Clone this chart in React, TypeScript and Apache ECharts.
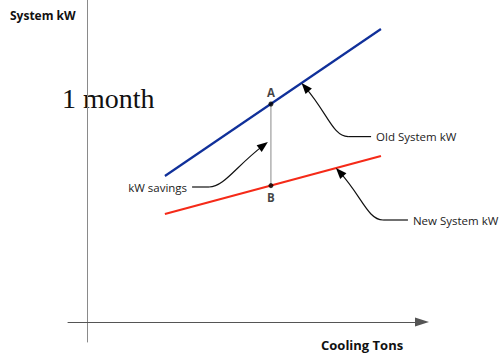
import { useEffect, useRef } from "react";
import * as echarts from "echarts";

// Cooling tons (x) at the two ends of each performance line
const tons = [4.1, 15.47];
// System kW (y) of the old and the new system at those tons
const oldSystemKw = [7.3, 14.65];
const newSystemKw = [5.4, 8.3];
// Measurement point
const measureTons = 9.68;
const pointA = 10.9;
const pointB = 6.82;
const pointLabels = ["A", "B"];

// Annotations: text, arrow tip, elbow, label anchor (data coords)
const annotationTexts = ["Old System kW", "New System kW", "kW savings"];
const annotationTips = [
  [11.29, 11.95],
  [13.1, 7.7],
  [9.52, 9.0],
];
const annotationElbows = [
  [13.74, 9.27],
  [15.58, 5.1],
  [6.42, 6.75],
];
const annotationAnchors = [
  [14.95, 9.27],
  [16.89, 5.1],
  [5.53, 6.75],
];

const xTitle = "Cooling Tons";
const yTitle = "System kW";
const periodText = "1 month";

export default function App() {
  const ref = useRef<HTMLDivElement>(null);

  useEffect(() => {
    if (!ref.current) return;
    const chart = echarts.init(ref.current, undefined, { renderer: "svg" });

    const annotationData = annotationTexts.map((_, i) => [
      ...annotationTips[i],
      ...annotationElbows[i],
      ...annotationAnchors[i],
    ]);

    const pointValues = [pointA, pointB];

    const option: any = {
      animation: false,
      grid: { left: 68, right: 77, top: 0, bottom: 12, containLabel: false },
      xAxis: {
        type: "value",
        min: -1,
        max: 17.63,
        splitLine: { show: false },
        axisTick: { show: false },
        axisLabel: { show: false },
        axisLine: {
          show: true,
          onZero: true,
          symbol: ["none", "triangle"],
          symbolSize: [9, 14],
          lineStyle: { color: "#555", width: 1 },
        },
      },
      yAxis: {
        type: "value",
        min: -1,
        max: 16.1,
        splitLine: { show: false },
        axisTick: { show: false },
        axisLabel: { show: false },
        axisLine: {
          show: true,
          onZero: true,
          lineStyle: { color: "#8a8a8a", width: 1 },
        },
      },
      graphic: [
        {
          type: "text",
          x: 10,
          y: 15,
          style: {
            text: yTitle,
            fontFamily: '"Open Sans"',
            fontWeight: "bold",
            fontSize: 12,
            fill: "#111",
            align: "left",
            verticalAlign: "middle",
          },
        },
        {
          type: "text",
          x: 321,
          y: 345,
          style: {
            text: xTitle,
            fontFamily: '"Open Sans"',
            fontWeight: "bold",
            fontSize: 13,
            fill: "#111",
            align: "left",
            verticalAlign: "middle",
          },
        },
        {
          type: "text",
          x: 62,
          y: 98.5,
          z: -1,
          style: {
            text: periodText,
            fontFamily: '"Liberation Serif"',
            fontSize: 28,
            fill: "#111",
            align: "left",
            verticalAlign: "middle",
          },
        },
      ],
      series: [
        {
          type: "line",
          name: "Old System kW",
          data: tons.map((t, i) => [t, oldSystemKw[i]]),
          symbol: "none",
          lineStyle: { color: "#10309a", width: 2.2 },
          z: 3,
        },
        {
          type: "line",
          name: "New System kW",
          data: tons.map((t, i) => [t, newSystemKw[i]]),
          symbol: "none",
          lineStyle: { color: "#f52a18", width: 2.2 },
          z: 3,
        },
        {
          type: "line",
          name: "kW savings",
          data: [
            [measureTons, pointA],
            [measureTons, pointB],
          ],
          symbol: "none",
          lineStyle: { color: "#8a8a8a", width: 1 },
          z: 2,
        },
        {
          type: "scatter",
          data: pointValues.map((v, i) => ({
            value: [measureTons, v],
            label: { position: i === 0 ? "top" : "bottom" },
          })),
          symbol: "circle",
          symbolSize: 5,
          itemStyle: { color: "#000" },
          z: 5,
          label: {
            show: true,
            formatter: (p: any) => pointLabels[p.dataIndex],
            distance: 3,
            fontFamily: '"Open Sans"',
            fontWeight: "bold",
            fontSize: 11.5,
            color: "#111",
          },
        },
        {
          type: "custom",
          clip: false,
          z: 6,
          data: annotationData,
          encode: { x: [0, 2, 4], y: [1, 3, 5] },
          renderItem: (params: any, api: any) => {
            const tip = api.coord([api.value(0), api.value(1)]);
            const elbow = api.coord([api.value(2), api.value(3)]);
            const anchor = api.coord([api.value(4), api.value(5)]);
            const dir = anchor[0] >= elbow[0] ? 1 : -1;
            const c1 = [
              tip[0] + (elbow[0] - tip[0]) * 0.55,
              tip[1] + (elbow[1] - tip[1]) * 0.55,
            ];
            const c2 = [elbow[0] - dir * 15, elbow[1]];
            let ux = c1[0] - tip[0];
            let uy = c1[1] - tip[1];
            const len = Math.hypot(ux, uy);
            ux /= len;
            uy /= len;
            const L = 11;
            const W = 4.2;
            const bx = tip[0] + ux * L;
            const by = tip[1] + uy * L;
            const poly = [
              [tip[0], tip[1]],
              [bx - uy * W, by + ux * W],
              [bx + uy * W, by - ux * W],
            ];
            return {
              type: "group",
              children: [
                {
                  type: "bezierCurve",
                  shape: {
                    x1: tip[0] + ux * 6,
                    y1: tip[1] + uy * 6,
                    x2: elbow[0],
                    y2: elbow[1],
                    cpx1: c1[0],
                    cpy1: c1[1],
                    cpx2: c2[0],
                    cpy2: c2[1],
                  },
                  style: { stroke: "#111", lineWidth: 1.2, fill: "none" },
                },
                {
                  type: "line",
                  shape: {
                    x1: elbow[0],
                    y1: elbow[1],
                    x2: anchor[0],
                    y2: anchor[1],
                  },
                  style: { stroke: "#111", lineWidth: 1.2 },
                },
                {
                  type: "polygon",
                  shape: { points: poly },
                  style: { fill: "#000" },
                },
                {
                  type: "text",
                  x: anchor[0] + dir * 5,
                  y: anchor[1],
                  style: {
                    text: annotationTexts[params.dataIndex],
                    align: dir > 0 ? "left" : "right",
                    verticalAlign: "middle",
                    fontSize: 11.5,
                    fontFamily: '"Open Sans"',
                    fill: "#222",
                  },
                },
              ],
            };
          },
        },
      ],
    };

    chart.setOption(option);
    return () => chart.dispose();
  }, []);

  return (
    <div
      ref={ref}
      style={{ position: "fixed", left: 0, top: 0, width: 499, height: 354, background: "#fff" }}
    />
  );
}
